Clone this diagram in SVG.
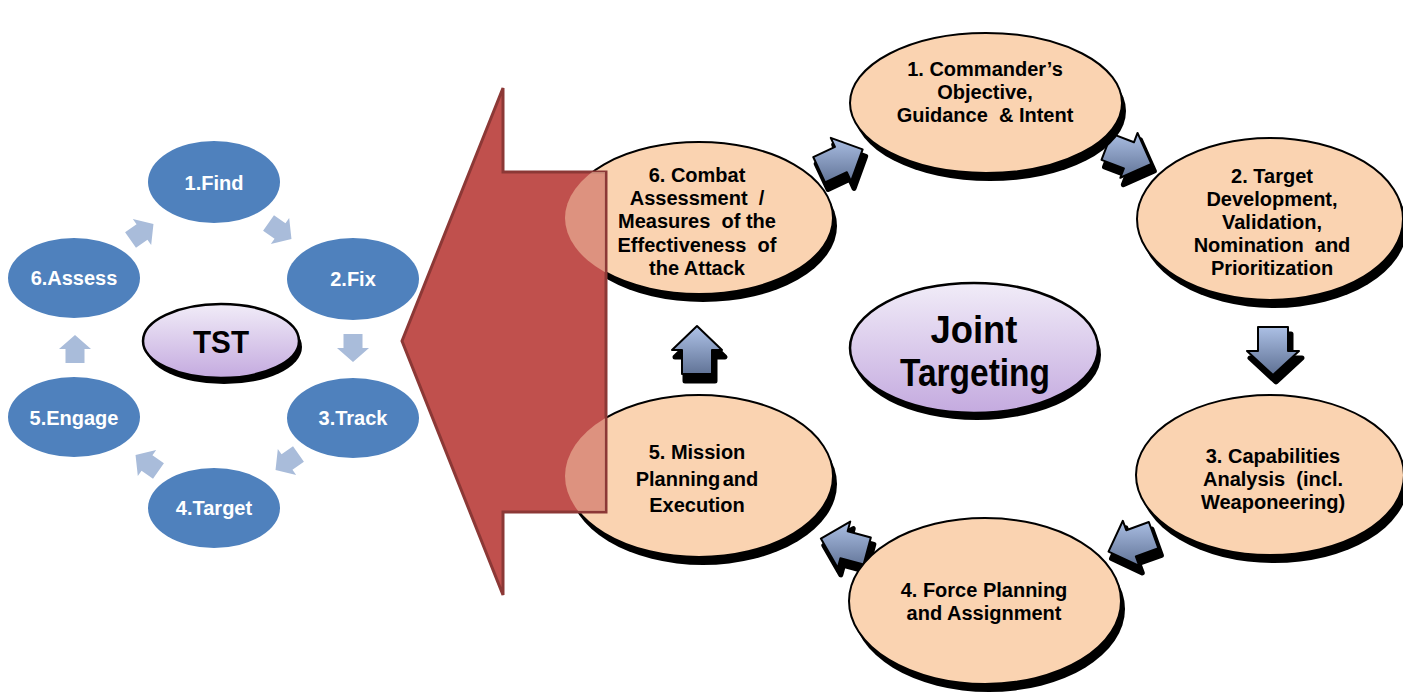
<svg xmlns="http://www.w3.org/2000/svg" width="1403" height="697" viewBox="0 0 1403 697">
  <style>
    .blue ellipse { fill: #4F81BD; }
    .blue text { font-family: "Liberation Sans", Arial, sans-serif; font-weight: bold; font-size: 20px; fill: #FFFFFF; text-anchor: middle; }
    .flat { fill: #A9BCDA; }
    .peach .sh { fill: #000000; }
    .peach .body { fill: #FAD3B1; stroke: #000000; stroke-width: 2; }
    .peach text, .hub text { font-family: "Liberation Sans", Arial, sans-serif; font-weight: bold; fill: #000000; text-anchor: middle; white-space: pre; }
    .peach text { font-size: 20px; }
    .hub .sh { fill: #000000; }
    .hub .body { fill: url(#lilac); stroke: #000000; stroke-width: 2.5; }
    .arr3d .sh { fill: #000000; stroke: #000000; stroke-width: 5; stroke-linejoin: round; }
    .arr3d .body { stroke: #000000; stroke-width: 2; stroke-linejoin: round; }
  </style>
  <defs>
    <linearGradient id="lilac" x1="0" y1="0" x2="0" y2="1">
      <stop offset="0" stop-color="#F1ECF8"/>
      <stop offset="1" stop-color="#C4AADF"/>
    </linearGradient>
    <!-- steel gradient, counter-rotated per arrow so it always runs top to bottom on screen -->
    <linearGradient id="steel" gradientUnits="userSpaceOnUse" x1="0" y1="-25" x2="0" y2="25">
      <stop offset="0" stop-color="#AFC3E8"/>
      <stop offset="1" stop-color="#5E7093"/>
    </linearGradient>
    <linearGradient id="g-m25" href="#steel" gradientTransform="rotate(25)"/>
    <linearGradient id="g-p21" href="#steel" gradientTransform="rotate(-21)"/>
    <linearGradient id="g-p90" href="#steel" gradientTransform="rotate(-90)"/>
    <linearGradient id="g-p160" href="#steel" gradientTransform="rotate(-160)"/>
    <linearGradient id="g-p195" href="#steel" gradientTransform="rotate(-195)"/>
    <linearGradient id="g-m90" href="#steel" gradientTransform="rotate(90)"/>
    <path id="flatArrow" d="M-14,-9.5 H0 V-16 L14,0 L0,16 V9.5 H-14 Z"/>
    <clipPath id="shaftClip">
      <rect x="555" y="172" width="50" height="339"/>
    </clipPath>
  </defs>

  <!-- TST cycle -->
  <g id="tst-connectors">
    <use href="#flatArrow" class="flat" transform="translate(280,231) rotate(35)"/>
    <use href="#flatArrow" class="flat" transform="translate(353,348) rotate(90)"/>
    <use href="#flatArrow" class="flat" transform="translate(287,462) rotate(145)"/>
    <use href="#flatArrow" class="flat" transform="translate(147,463) rotate(215)"/>
    <use href="#flatArrow" class="flat" transform="translate(75,349) rotate(-90)"/>
    <use href="#flatArrow" class="flat" transform="translate(142,232) rotate(-35)"/>
  </g>
  <g id="tst-find" class="blue"><ellipse cx="214" cy="182" rx="66" ry="41"/><text x="214" y="190">1.Find</text></g>
  <g id="tst-fix" class="blue"><ellipse cx="353" cy="279" rx="66" ry="41"/><text x="353" y="286">2.Fix</text></g>
  <g id="tst-track" class="blue"><ellipse cx="353" cy="418" rx="66" ry="40"/><text x="353" y="425">3.Track</text></g>
  <g id="tst-target" class="blue"><ellipse cx="214" cy="508" rx="66" ry="40"/><text x="214" y="515">4.Target</text></g>
  <g id="tst-engage" class="blue"><ellipse cx="74" cy="417" rx="66" ry="40"/><text x="74" y="425">5.Engage</text></g>
  <g id="tst-assess" class="blue"><ellipse cx="74" cy="278" rx="66" ry="40"/><text x="74" y="285">6.Assess</text></g>
  <g id="tst-hub" class="hub">
    <ellipse class="sh" cx="224" cy="347" rx="78" ry="37"/>
    <ellipse class="body" cx="221" cy="341" rx="78" ry="37"/>
    <text x="221" y="353" font-size="32" textLength="56" lengthAdjust="spacingAndGlyphs">TST</text>
  </g>

  <!-- Joint targeting cycle connectors -->
  <g id="jt-connectors" class="arr3d">
    <g>
      <path class="sh" transform="translate(843,167) rotate(-25)" d="M-23,-14 H1 V-24 L25,0 L1,24 V14 H-23 Z"/>
      <path class="body" fill="url(#g-m25)" transform="translate(840,160) rotate(-25)" d="M-23,-14 H1 V-24 L25,0 L1,24 V14 H-23 Z"/>
    </g>
    <g>
      <path class="sh" transform="translate(1131,162) rotate(21)" d="M-23,-14 H1 V-24 L25,0 L1,24 V14 H-23 Z"/>
      <path class="body" fill="url(#g-p21)" transform="translate(1128,155) rotate(21)" d="M-23,-14 H1 V-24 L25,0 L1,24 V14 H-23 Z"/>
    </g>
    <g>
      <path class="sh" transform="translate(1276,357) rotate(90)" d="M-23,-15 H1 V-26 L25,0 L1,26 V15 H-23 Z"/>
      <path class="body" fill="url(#g-p90)" transform="translate(1273,350) rotate(90)" d="M-23,-15 H1 V-26 L25,0 L1,26 V15 H-23 Z"/>
    </g>
    <g>
      <path class="sh" transform="translate(1135,550) rotate(160)" d="M-23,-14 H1 V-24 L25,0 L1,24 V14 H-23 Z"/>
      <path class="body" fill="url(#g-p160)" transform="translate(1132,543) rotate(160)" d="M-23,-14 H1 V-24 L25,0 L1,24 V14 H-23 Z"/>
    </g>
    <g>
      <path class="sh" transform="translate(848,552) rotate(195)" d="M-23,-14 H1 V-24 L25,0 L1,24 V14 H-23 Z"/>
      <path class="body" fill="url(#g-p195)" transform="translate(845,545) rotate(195)" d="M-23,-14 H1 V-24 L25,0 L1,24 V14 H-23 Z"/>
    </g>
    <g>
      <path class="sh" transform="translate(700,358) rotate(-90)" d="M-23,-15 H1 V-25 L25,0 L1,25 V15 H-23 Z"/>
      <path class="body" fill="url(#g-m90)" transform="translate(697,351) rotate(-90)" d="M-23,-15 H1 V-25 L25,0 L1,25 V15 H-23 Z"/>
    </g>
  </g>

  <!-- Joint targeting steps -->
  <g id="jt-step1" class="peach">
    <ellipse class="sh" cx="990" cy="111" rx="136" ry="70"/>
    <ellipse class="body" cx="986" cy="103" rx="136" ry="70"/>
    <text x="985" y="76">1. Commander’s</text>
    <text x="985" y="99">Objective,</text>
    <text x="985" y="122">Guidance  &amp; Intent</text>
  </g>
  <g id="jt-step2" class="peach">
    <ellipse class="sh" cx="1274" cy="227" rx="133" ry="81"/>
    <ellipse class="body" cx="1270" cy="219" rx="133" ry="81"/>
    <text x="1272" y="183">2. Target</text>
    <text x="1272" y="206">Development,</text>
    <text x="1272" y="229">Validation,</text>
    <text x="1272" y="252">Nomination  and</text>
    <text x="1272" y="275">Prioritization</text>
  </g>
  <g id="jt-step3" class="peach">
    <ellipse class="sh" cx="1274" cy="483" rx="134" ry="80"/>
    <ellipse class="body" cx="1270" cy="475" rx="134" ry="80"/>
    <text x="1273" y="463">3. Capabilities</text>
    <text x="1273" y="486">Analysis  (incl.</text>
    <text x="1273" y="509">Weaponeering)</text>
  </g>
  <g id="jt-step4" class="peach">
    <ellipse class="sh" cx="989" cy="609" rx="136" ry="83"/>
    <ellipse class="body" cx="985" cy="601" rx="136" ry="83"/>
    <text x="984" y="597">4. Force Planning</text>
    <text x="984" y="620">and Assignment</text>
  </g>
  <g id="jt-step5" class="peach">
    <ellipse class="sh" cx="703" cy="484" rx="134" ry="81"/>
    <ellipse class="body" cx="699" cy="476" rx="134" ry="81"/>
    <text x="697" y="459" font-size="24">5. Mission</text>
    <text x="697" y="486" font-size="24" word-spacing="-3">Planning and</text>
    <text x="697" y="512" font-size="24">Execution</text>
  </g>
  <g id="jt-step6" class="peach">
    <ellipse class="sh" cx="703" cy="226" rx="134" ry="76"/>
    <ellipse class="body" cx="699" cy="218" rx="134" ry="76"/>
    <text x="697" y="182">6. Combat</text>
    <text x="697" y="205">Assessment  /</text>
    <text x="697" y="228">Measures  of the</text>
    <text x="697" y="252">Effectiveness  of</text>
    <text x="697" y="275">the Attack</text>
  </g>
  <g id="jt-hub" class="hub">
    <ellipse class="sh" cx="977" cy="355" rx="124" ry="65"/>
    <ellipse class="body" cx="974" cy="348" rx="124" ry="65"/>
    <text x="974" y="343" font-size="38" textLength="87" lengthAdjust="spacingAndGlyphs">Joint</text>
    <text x="975" y="386" font-size="38" textLength="150" lengthAdjust="spacingAndGlyphs">Targeting</text>
  </g>

  <!-- large transfer arrow from joint targeting to TST -->
  <g id="transfer-arrow">
    <polygon points="402,341 503,88 503,172 606,172 606,512 503,512 503,595" fill="#C0504D" stroke="#8C3836" stroke-width="3" stroke-linejoin="miter"/>
    <g clip-path="url(#shaftClip)" fill="#FAD3B1" opacity="0.5">
      <ellipse cx="699" cy="218" rx="134" ry="76"/>
      <ellipse cx="699" cy="476" rx="134" ry="81"/>
    </g>
  </g>
</svg>
